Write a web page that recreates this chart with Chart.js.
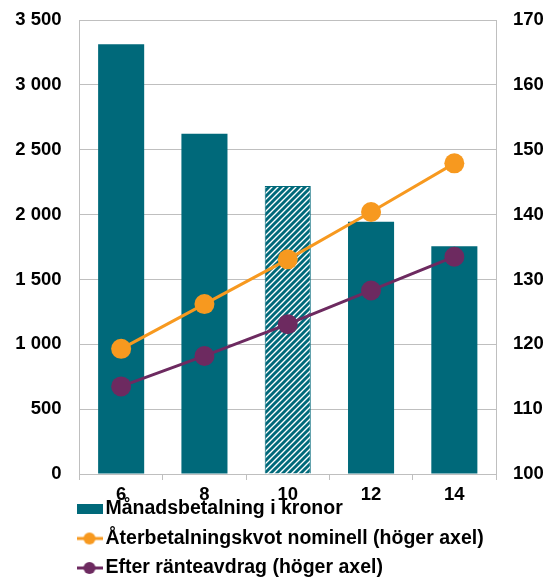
<!DOCTYPE html>
<html lang="sv">

<head>
    <meta charset="utf-8">
    <title>Månadsbetalning och återbetalningskvot</title>
    <script src="https://cdn.jsdelivr.net/npm/chart.js@4.4.1/dist/chart.umd.min.js"></script>
    <style>
        html, body {
            margin: 0;
            padding: 0;
            background: #ffffff;
        }

        .wrap {
            width: 548px;
            height: 579px;
        }
    </style>
</head>

<body>
    <div class="wrap">
        <canvas id="myChart" width="548" height="579"></canvas>
    </div>

    <script>
        // data
        var years = ["6", "8", "10", "12", "14"];
        var payment = [3313, 2623, 2220, 1945, 1755];
        var ratioNominal = [119.3, 126.2, 133.1, 140.4, 147.9];
        var ratioAfterTax = [113.5, 118.2, 123.1, 128.3, 133.5];
        var hatched = [false, false, true, false, false];

        var labelPayment = "Månadsbetalning i kronor";
        var labelNominal = "Återbetalningskvot nominell (höger axel)";
        var labelAfterTax = "Efter ränteavdrag (höger axel)";

        var teal = "#00697a";
        var orange = "#f7991f";
        var purple = "#6d2a60";
        var grey = "#bfbfbf";

        let makeHatch = () => {
            let c = document.createElement("canvas");
            let s = 6;
            c.width = s;
            c.height = s;
            let ctx = c.getContext("2d");
            ctx.fillStyle = "#ffffff";
            ctx.fillRect(0, 0, s, s);
            ctx.strokeStyle = teal;
            ctx.lineWidth = 2.9;
            ctx.beginPath();
            for (let k = -1; k <= 1; k++) {
                ctx.moveTo(k * s - 1, s + 1);
                ctx.lineTo(k * s + s + 1, -1);
            }
            ctx.stroke();
            return c.getContext("2d").createPattern(c, "repeat");
        };

        // legend symbols, 26x16
        let makeSymbol = (kind, color) => {
            let c = document.createElement("canvas");
            c.width = 26;
            c.height = 16;
            let ctx = c.getContext("2d");
            if (kind === "bar") {
                ctx.fillStyle = color;
                ctx.fillRect(0, 3, 26, 10);
            } else {
                ctx.strokeStyle = color;
                ctx.lineWidth = 3;
                ctx.beginPath();
                ctx.moveTo(0, 8);
                ctx.lineTo(26, 8);
                ctx.stroke();
                ctx.fillStyle = color;
                ctx.beginPath();
                ctx.arc(13, 8, 6, 0, Math.PI * 2);
                ctx.fill();
            }
            return c;
        };

        let spaced = (v) => String(v).replace(/\B(?=(\d{3})+(?!\d))/g, " ");

        let hatch = makeHatch();
        let legendItems = [
            { text: labelPayment, img: makeSymbol("bar", teal) },
            { text: labelNominal, img: makeSymbol("line", orange) },
            { text: labelAfterTax, img: makeSymbol("line", purple) }
        ];

        let fontFamily = "'Liberation Sans', Arial, sans-serif";
        let tickFont = { family: fontFamily, size: 18.5, weight: "bold" };
        let noColor = "rgba(0,0,0,0)";

        // one legend entry per line, under the x axis
        let stackedLegend = {
            id: "stackedLegend",
            afterDraw: (c) => {
                let ctx = c.ctx;
                let left = c.chartArea.left - 3;
                let y0 = c.chartArea.bottom + 35;
                ctx.save();
                ctx.font = "bold 19.5px " + fontFamily;
                ctx.textBaseline = "middle";
                ctx.fillStyle = "#000000";
                legendItems.forEach((item, i) => {
                    let y = y0 + i * 29.5;
                    ctx.drawImage(item.img, left, y - 8);
                    ctx.fillText(item.text, left + 29, y);
                });
                ctx.restore();
            }
        };

        let chart = new Chart(document.getElementById("myChart"), {
            type: "bar",
            data: {
                labels: years,
                datasets: [{
                    type: "line",
                    label: labelNominal,
                    data: ratioNominal,
                    yAxisID: "y1",
                    borderColor: orange,
                    backgroundColor: orange,
                    borderWidth: 3,
                    pointRadius: 10,
                    pointBorderWidth: 0,
                    order: 1
                }, {
                    type: "line",
                    label: labelAfterTax,
                    data: ratioAfterTax,
                    yAxisID: "y1",
                    borderColor: purple,
                    backgroundColor: purple,
                    borderWidth: 3,
                    pointRadius: 10,
                    pointBorderWidth: 0,
                    order: 2
                }, {
                    type: "bar",
                    label: labelPayment,
                    data: payment,
                    yAxisID: "y",
                    backgroundColor: hatched.map(h => h ? hatch : teal),
                    borderColor: teal,
                    borderWidth: hatched.map(h => h ? 1 : 0),
                    categoryPercentage: 1,
                    barPercentage: 0.553,
                    order: 3
                }]
            },
            options: {
                responsive: false,
                animation: false,
                layout: {
                    padding: { top: 20, left: 0, right: 0, bottom: 75 }
                },
                plugins: {
                    tooltip: { enabled: false },
                    legend: { display: false }
                },
                scales: {
                    x: {
                        grid: {
                            drawOnChartArea: false,
                            drawTicks: true,
                            tickLength: 6,
                            color: grey
                        },
                        border: { color: grey },
                        ticks: {
                            color: "#000000",
                            font: tickFont,
                            padding: 4,
                            maxRotation: 0
                        },
                        afterFit: (scale) => { scale.height = 30; }
                    },
                    y: {
                        position: "left",
                        min: 0,
                        max: 3500,
                        grid: { color: grey, drawTicks: true, tickLength: 18, tickColor: noColor },
                        border: { color: grey },
                        ticks: {
                            stepSize: 500,
                            padding: 0,
                            color: "#000000",
                            font: tickFont,
                            callback: (v) => spaced(v)
                        },
                        afterFit: (scale) => { scale.width = 79.5; }
                    },
                    y1: {
                        position: "right",
                        min: 100,
                        max: 170,
                        grid: { drawOnChartArea: false, drawTicks: true, tickLength: 17, tickColor: noColor },
                        border: { color: grey },
                        ticks: {
                            stepSize: 10,
                            padding: 0,
                            color: "#000000",
                            font: tickFont
                        },
                        afterFit: (scale) => { scale.width = 52; }
                    }
                }
            },
            plugins: [stackedLegend]
        });
    </script>
</body>

</html>
